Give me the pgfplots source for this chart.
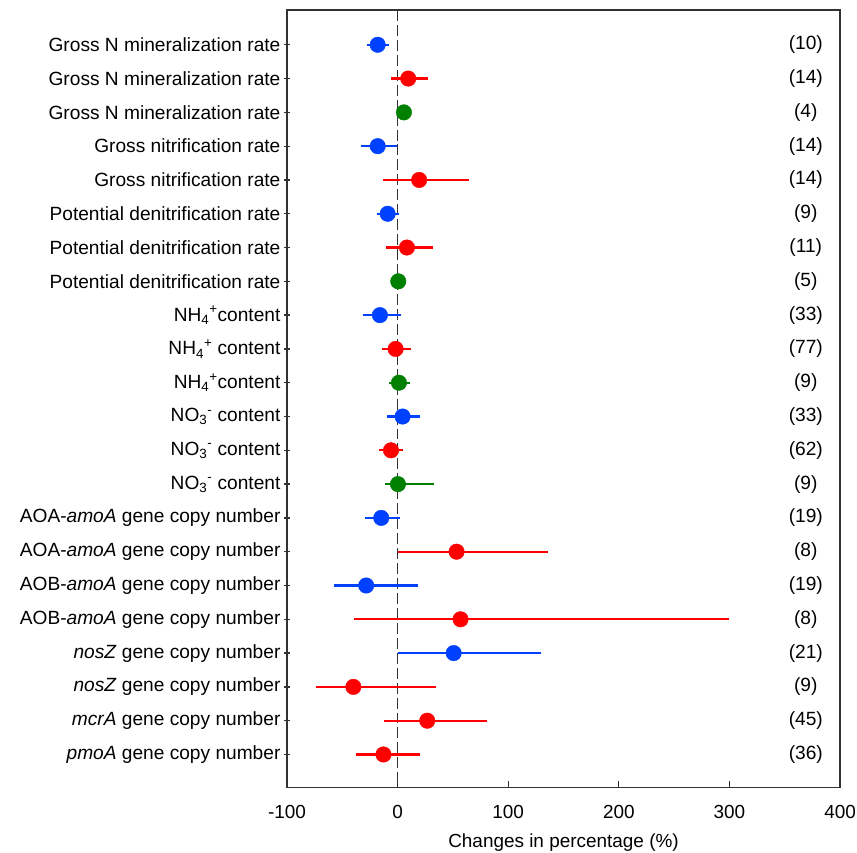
\documentclass[border=0pt]{standalone}
\usepackage{fontspec}
\setmainfont{Liberation Sans}
\usepackage{pgfplots}
\usepackage{pgfplotstable}
\pgfplotsset{compat=1.18}
\definecolor{cblue}{RGB}{0,64,255}
\definecolor{cred}{RGB}{255,0,0}
\definecolor{cgreen}{RGB}{0,128,0}
\definecolor{axgray}{RGB}{50,50,50}

\pgfplotstableread{
y x em ep
1 -18 10 10.5
4 -18 15.3 17
6 -9 9.3 10.2
9 -16 15.3 19
12 4.5 14.1 16
15 -14.8 14.8 16.8
17 -28.4 29 47.1
19 50.7 50.7 79.3
}\blue
\pgfplotstableread{
y x em ep
2 9.6 15.9 18
5 19.5 32.7 45.4
7 8.4 18.9 23.6
10 -1.8 12.1 13.5
13 -6 10.8 10.8
16 53.3 53.3 82.7
18 56.9 95.9 243.1
20 -40 33.5 74.9
21 26.8 38.7 54.1
22 -12.8 24.6 32.6
}\red
\pgfplotstableread{
y x em ep
3 5.7 2.7 2.8
8 0.6 3.6 3.4
11 1.2 8.7 9.8
14 0.3 11.7 32.7
}\green

\pgfplotsset{myerr/.style={
  error bars/x dir=both, error bars/x explicit, error bars/error mark=none,
  error bars/error bar style={line width=2.3pt, #1}}}

\begin{document}
\fontsize{19.2}{23}\selectfont
\begin{tikzpicture}
\begin{axis}[
  name=ax,
  scale only axis,
  width=555pt, height=780pt,
  xmin=-100, xmax=400,
  ymin=-0.03, ymax=22.97,
  y dir=reverse,
  xtick={-100,0,100,200,300,400},
  xticklabels={-100,0,100,200,300,400},
  ytick={1,...,22},
  yticklabels={
    Gross N mineralization rate,
    Gross N mineralization rate,
    Gross N mineralization rate,
    Gross nitrification rate,
    Gross nitrification rate,
    Potential denitrification rate,
    Potential denitrification rate,
    Potential denitrification rate,
    NH\textsubscript{4}\textsuperscript{+}content,
    NH\textsubscript{4}\textsuperscript{+} content,
    NH\textsubscript{4}\textsuperscript{+}content,
    NO\textsubscript{3}\textsuperscript{-} content,
    NO\textsubscript{3}\textsuperscript{-} content,
    NO\textsubscript{3}\textsuperscript{-} content,
    AOA-\textit{amoA} gene copy number,
    AOA-\textit{amoA} gene copy number,
    AOB-\textit{amoA} gene copy number,
    AOB-\textit{amoA} gene copy number,
    \textit{nosZ} gene copy number,
    \textit{nosZ} gene copy number,
    \textit{mcrA} gene copy number,
    \textit{pmoA} gene copy number},
  axis line style={axgray, line width=1.5pt},
  every tick/.style={axgray, line width=1.3pt},
  major tick length=6pt,
  xtick align=inside,
  ytick align=center,
  xtick pos=bottom,
  ytick pos=left,
  yticklabel style={font=\fontsize{19.2}{23}\selectfont, black, xshift=3pt},
  xticklabel style={font=\fontsize{19}{23}\selectfont, black, yshift=-11pt},
  xlabel={Changes in percentage (\%)},
  xlabel style={font=\fontsize{19}{22}\selectfont, yshift=-3pt},
  clip=false,
]
\draw[axgray, line width=1.6pt, dash pattern=on 11pt off 4pt] (axis cs:0,-0.03) -- (axis cs:0,22.97);
\addplot[only marks, mark=*, mark size=7.8pt, color=cblue, myerr=cblue]
  table[x=x, y=y, x error plus=ep, x error minus=em] {\blue};
\addplot[only marks, mark=*, mark size=7.8pt, color=cred, myerr=cred]
  table[x=x, y=y, x error plus=ep, x error minus=em] {\red};
\addplot[only marks, mark=*, mark size=7.8pt, color=cgreen, myerr=cgreen]
  table[x=x, y=y, x error plus=ep, x error minus=em] {\green};
\node at (axis cs:369,1) {(10)};
\node at (axis cs:369,2) {(14)};
\node at (axis cs:369,3) {(4)};
\node at (axis cs:369,4) {(14)};
\node at (axis cs:369,5) {(14)};
\node at (axis cs:369,6) {(9)};
\node at (axis cs:369,7) {(11)};
\node at (axis cs:369,8) {(5)};
\node at (axis cs:369,9) {(33)};
\node at (axis cs:369,10) {(77)};
\node at (axis cs:369,11) {(9)};
\node at (axis cs:369,12) {(33)};
\node at (axis cs:369,13) {(62)};
\node at (axis cs:369,14) {(9)};
\node at (axis cs:369,15) {(19)};
\node at (axis cs:369,16) {(8)};
\node at (axis cs:369,17) {(19)};
\node at (axis cs:369,18) {(8)};
\node at (axis cs:369,19) {(21)};
\node at (axis cs:369,20) {(9)};
\node at (axis cs:369,21) {(45)};
\node at (axis cs:369,22) {(36)};
\end{axis}
\pgfresetboundingbox
\path ([xshift=-288pt,yshift=-65pt]ax.south west) rectangle ([xshift=17pt,yshift=10pt]ax.north east);
\end{tikzpicture}
\end{document}
